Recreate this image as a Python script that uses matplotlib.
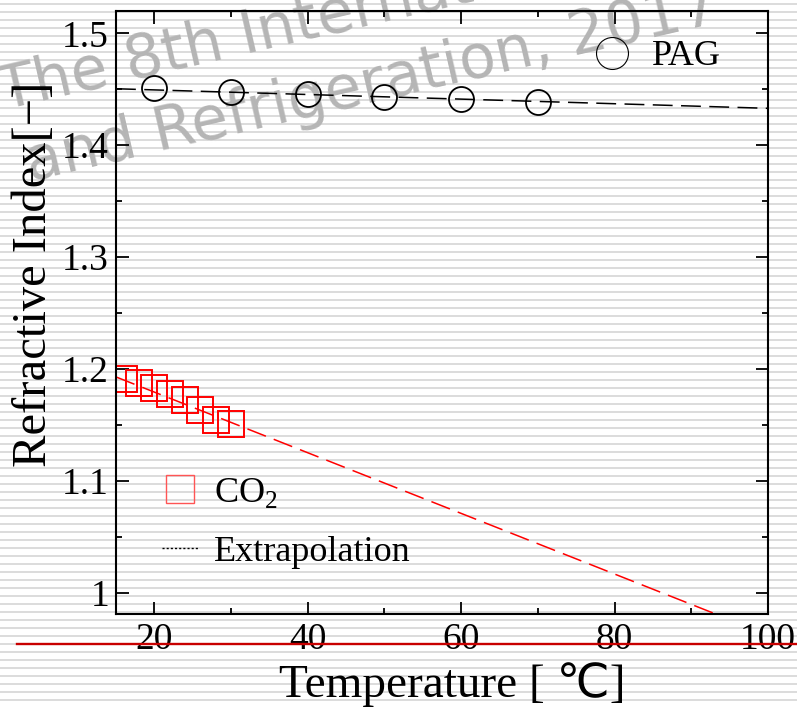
import numpy as np
import matplotlib
matplotlib.use('Agg')
import matplotlib.pyplot as plt
from matplotlib.lines import Line2D

# data
pag_t = [20, 30, 40, 50, 60, 70]
pag_n = [1.451, 1.448, 1.4455, 1.443, 1.441, 1.439]
pag_fit_t = [15, 100]
pag_fit_n = [1.4505, 1.433]

co2_t = [16, 18, 20, 22, 24, 26, 28, 30]
co2_n = [1.1908, 1.1874, 1.1828, 1.1774, 1.1722, 1.1633, 1.1548, 1.1506]
co2_fit_t = [15, 100]
co2_fit_n = [1.1929, 0.9625]

xticks = [20, 40, 60, 80, 100]
yticks = [1.0, 1.1, 1.2, 1.3, 1.4, 1.5]
ytick_labels = ['1', '1.1', '1.2', '1.3', '1.4', '1.5']

W, H = 797, 707
plt.rcParams['font.family'] = ['Liberation Serif', 'DejaVu Sans']
plt.rcParams['mathtext.fontset'] = 'custom'
plt.rcParams['mathtext.rm'] = 'Liberation Serif'

fig = plt.figure(figsize=(W / 100, H / 100), dpi=100, facecolor='white')

# striped page background
bg = np.ones((H, W))
for y0 in np.arange(3, H, 8):
    bg[y0:y0 + 2, :] = 0.86
fig.figimage(bg, xo=0, yo=0, origin='upper', cmap='gray', vmin=0, vmax=1, zorder=-2)

# watermark (clipped by the page like in the source)
wm = dict(color='#b5b5b5', fontsize=43, family='DejaVu Sans', rotation=13,
          rotation_mode='anchor', ha='left', va='baseline', zorder=-1)
fig.text(3 / W, 1 - 110 / H, 'The 8th International Conference', **wm)
fig.text(30 / W, 1 - 181 / H, 'and Refrigeration, 2017', **wm)

ax = fig.add_axes([116 / W, 1 - 614 / H, 652 / W, 603 / H])
ax.patch.set_alpha(0)

ax.plot(pag_fit_t, pag_fit_n, color='black', lw=1.1, ls=(0, (13, 5.5)))
ax.plot(pag_t, pag_n, ls='none', marker='o', ms=18, mfc='none', mec='black', mew=1.3)
ax.plot(co2_fit_t, co2_fit_n, color='red', lw=1.1, ls=(0, (13, 5.5)))
ax.plot(co2_t, co2_n, ls='none', marker='s', ms=18.5, mfc='none', mec='red', mew=1.4)

ax.set_xlim(15, 100)
ax.set_ylim(0.981, 1.52)
ax.set_xticks(xticks)
ax.set_xticks([30, 50, 70, 90], minor=True)
ax.set_yticks(yticks)
ax.set_yticklabels(ytick_labels)
ax.set_yticks(np.arange(1.05, 1.5, 0.1), minor=True)
ax.tick_params(which='both', direction='in', top=True, right=True, labelsize=27, width=1.3)
ax.tick_params(which='major', length=9, pad=5)
ax.tick_params(which='minor', length=4)
ax.tick_params(axis='x', pad=6)
for s in ax.spines.values():
    s.set_linewidth(1.5)

# legends
h_pag = Line2D([], [], ls='none', marker='o', ms=23, mfc='none', mec='black', mew=0.8)
leg1 = ax.legend([h_pag], ['PAG'], loc='upper left', frameon=False, fontsize=26,
                 bbox_to_anchor=(594 / W, 1 - 40 / H), bbox_transform=fig.transFigure,
                 borderpad=0, borderaxespad=0, handlelength=1.0, handletextpad=0.6)
ax.add_artist(leg1)
h_co2 = Line2D([], [], ls='none', marker='s', ms=20.5, mfc='none', mec='#ff5555', mew=1.0)
h_ext = Line2D([], [], color='black', lw=1.0, ls=(0, (1.5, 1.5)))
ax.legend([h_co2, h_ext], ['CO$_2$', 'Extrapolation'], loc='upper left', frameon=False,
          fontsize=26, bbox_to_anchor=(162 / W, 1 - 476 / H), bbox_transform=fig.transFigure,
          borderpad=0, borderaxespad=0, handlelength=1.0, handletextpad=0.45,
          labelspacing=0.7)

# axis labels
fig.text(452 / W, 1 - 697 / H, 'Temperature [ ℃]', fontsize=34, ha='center', va='baseline')
fig.text(34 / W, 1 - 274 / H, 'Refractive Index[−]', fontsize=35, rotation=90,
         ha='center', va='center')

# red rule across the page
fig.add_artist(Line2D([17 / W, 1], [1 - 644 / H, 1 - 644 / H], color='#c80000', lw=1.7,
                      transform=fig.transFigure, zorder=5))

fig.savefig('out.png', dpi=100, facecolor='white')
